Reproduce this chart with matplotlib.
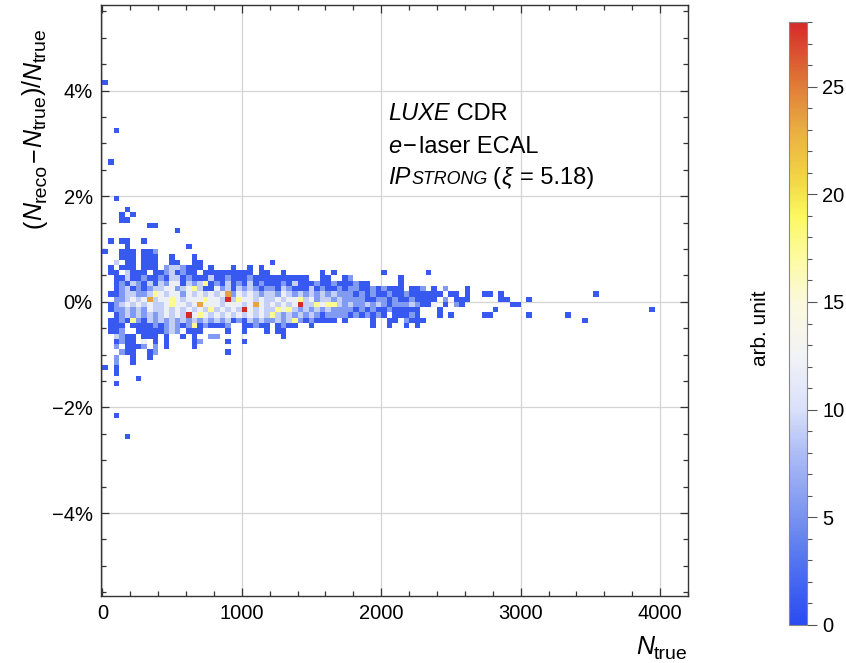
import numpy as np
import matplotlib
matplotlib.use("Agg")
import matplotlib.pyplot as plt
from matplotlib.colors import LinearSegmentedColormap, Normalize
from matplotlib.ticker import MultipleLocator, FixedLocator, FuncFormatter
from matplotlib.transforms import IdentityTransform

plt.rcParams['font.family'] = ['Liberation Sans', 'DejaVu Sans']

# ---------------- data ----------------
X_BIN = 40.0          # N_true bin width
Y_BIN = 0.1           # relative-difference bin width, in %
N_COLS = 100
CORE_TOP_ROW = 10     # row index of first string (row i covers [0.1 i, 0.1 (i+1)] %)
# one string per row, one char per x-bin; '.' = empty, '1'..'9' = colour level
CORE_ROWS = [
    "....1..... .....1....",                                                     # 10
    "1..111.112",                                                                 # 9
    "...111.111 ..1...1...",                                                      # 8
    "..3.11.111 ..11..11.. .......... 1",                                         # 7
    ".1.111.111 .2332111.1 ...1..1.1.",                                           # 6
    ".11.3111.1 1231211.11 1111111.11 ..1......1 .1........ 1.......1.",          # 5
    "..11311211 2133121113 1121112111 1111111..1 1..12..... ...1......",          # 4
    "..12132131 3244132351 2131213121 1121311121 12111211.. ...1......",          # 3
    "..12312123 3442345311 4231323212 2132111312 1121221121 2111.112.1 .2...1....",  # 2
    ".112332235 4344243434 3472434323 3243232323 2322212121 1211211111 1.11.1..11 .1........ ........1.",  # 1
    "..22343473 4454344454 4393544343 3434453423 3232222112 2121121111 .2.111.... .11...1...",  # 0
    ".123434343 3454434744 4344434743 4343493354 5532322323 2122232114 .1.21..... ...11.....",  # -1
    ".122323243 3434343435 3434394343 3545323232 3222212121 1211111... 1......... 1......... .......... ........1.",  # -2
    "..12323232 3434394543 4343434343 5323232321 2222121212 1.11121... 1.1.....11 ......1... ...1......",  # -3
    ".112152132 3232323232 3231213232 2323521211 11.1....1. .11.2111.. .......... .......... ......1...",  # -4
    ".111.11112 1232125121 112..11211 .1211..1.. ........1. .1..1.1...",          # -5
    ".112..1111 1232.111.. ..1..1...1 .11.......",                                # -6
    "..3211.111 .1..1.1..2 2......... ..1.......",                                # -7
    "..1211.4.1 .1....12.. ..1..1....",                                           # -8
    "..2.1112.2 .1....1...",                                                      # -9
    "...211..12 .......... ..1.......",                                           # -10
    "..2..1..1.",                                                                 # -11
    "..2..1....",                                                                 # -12
    "1.1.......",                                                                 # -13
    "..1.......",                                                                 # -14
    "......1...",                                                                 # -15
    "..1.......",                                                                 # -16
]
SPARSE_COL = [1, 3, 4, 7, 13, 8, 9, 3, 4, 3, 5, 4, 2, 1, 2, 0, 2, 4]
SPARSE_ROW = [11, 11, 11, 11, 13, 14, 14, 15, 15, 16, 16, 17, 19, 26, 32, 41, -22, -26]
SPARSE_CODE = ['1'] * len(SPARSE_COL)
CODE_VALUE = {'1': 1.0, '2': 5.5, '3': 9.0, '4': 12.0, '5': 17.5,
              '6': 19.5, '7': 23.5, '8': 25.5, '9': 28.0}

X_TICKS = [0, 1000, 2000, 3000, 4000]
Y_TICKS = [-4, -2, 0, 2, 4]
CBAR_TICKS = [0, 5, 10, 15, 20, 25]
CBAR_MAX = 28

# ---------------- build the histogram grid ----------------
rows = ["".join(r.split()).ljust(N_COLS, '.') for r in CORE_ROWS]
row_lo = min(CORE_TOP_ROW - len(rows) + 1, min(SPARSE_ROW))
row_hi = max(CORE_TOP_ROW, max(SPARSE_ROW))
H = np.full((row_hi - row_lo + 1, N_COLS), np.nan)
for k, r in enumerate(rows):
    i = CORE_TOP_ROW - k
    for j, c in enumerate(r):
        if c != '.':
            H[i - row_lo, j] = CODE_VALUE[c]
for j, i, c in zip(SPARSE_COL, SPARSE_ROW, SPARSE_CODE):
    H[i - row_lo, j] = CODE_VALUE[c]
xedges = np.arange(N_COLS + 1) * X_BIN
yedges = np.arange(row_lo, row_hi + 2) * Y_BIN

cmap = LinearSegmentedColormap.from_list("luxe", [
    (0.0, "#2a4bf0"), (3 / 28, "#5475f0"), (5 / 28, "#7893f1"),
    (8 / 28, "#aebdf6"), (10 / 28, "#d9e0fa"), (12.5 / 28, "#f2f3f6"),
    (15 / 28, "#fbf9dc"), (17 / 28, "#fdfba2"), (19 / 28, "#fcf862"),
    (20.5 / 28, "#f3da48"), (23 / 28, "#eaae40"), (25 / 28, "#e27e38"),
    (1.0, "#d42a2a")])
norm = Normalize(0, CBAR_MAX)

# ---------------- figure ----------------
FW, FH = 846, 663
fig = plt.figure(figsize=(FW / 100, FH / 100), dpi=100)
renderer = fig.canvas.get_renderer()
ax = fig.add_axes([101 / FW, 67 / FH, 587 / FW, 591 / FH])
mesh = ax.pcolormesh(xedges, yedges, np.ma.masked_invalid(H), cmap=cmap,
                     norm=norm, edgecolors='none', zorder=2)
ax.set_xlim(-10, 4200)
ax.set_ylim(-5.57, 5.62)

ax.xaxis.set_major_locator(FixedLocator(X_TICKS))
ax.xaxis.set_minor_locator(MultipleLocator(200))
ax.yaxis.set_major_locator(FixedLocator(Y_TICKS))
ax.yaxis.set_minor_locator(MultipleLocator(0.5))
ax.yaxis.set_major_formatter(FuncFormatter(
    lambda v, p: f"{v:.0f}%".replace("-", "\u2212")))
ax.tick_params(which='both', direction='in', top=True, right=True,
               colors='#333333', labelcolor='black', labelsize=14.5, width=0.9)
ax.tick_params(which='major', length=6, pad=6)
ax.tick_params(which='minor', length=3.5)
for s in ax.spines.values():
    s.set_color('#333333')
    s.set_linewidth(1.0)
ax.grid(True, which='major', color='#d4d4d4', linewidth=0.9)
ax.set_axisbelow(True)


def pieces(x0, y0, parts, rotation=0, anchor='start'):
    """Lay out text pieces along a line (pixel coords, baseline aligned).
    parts: (text, fontsize, style, shift_px_down, gap_px_before)"""
    arts, pos = [], 0.0
    for text, size, style, shift, gap in parts:
        pos += gap
        t = fig.text(0, 0, text, fontsize=size, style=style, rotation=rotation,
                     rotation_mode='anchor', ha='left', va='baseline',
                     transform=IdentityTransform())
        bb = t.get_window_extent(renderer)
        arts.append((t, pos, shift))
        pos += bb.height if rotation == 90 else bb.width
    off = {'start': 0.0, 'center': -pos / 2, 'end': -pos}[anchor]
    for t, p, shift in arts:
        if rotation == 90:
            t.set_position((x0 + shift, y0 + p + off))
        else:
            t.set_position((x0 + p + off, y0 - shift))


B, S, D = 18, 14, 5  # base size, subscript size, subscript drop (px)
MINUS = "\u2212"
pieces(41, FH - 128, [
    ("(", B, 'normal', 0, 0), ("N", B, 'italic', 0, 0), ("reco", S, 'normal', D, 0),
    (MINUS, B, 'normal', 0, 1), ("N", B, 'italic', 0, 1), ("true", S, 'normal', D, 0),
    (")", B, 'normal', 0, 0), ("/", B, 'normal', 0, 0), ("N", B, 'italic', 0, 0),
    ("true", S, 'normal', D, 0)], rotation=90, anchor='center')
pieces(688, FH - 654, [("N", B, 'italic', 0, 0), ("true", S, 'normal', D, 0)],
       anchor='end')

# annotation block
TS = 17
pieces(388, FH - 120, [("LUXE", TS, 'italic', 0, 0), (" CDR", TS, 'normal', 0, 0)])
pieces(388, FH - 153, [("e", TS, 'italic', 0, 0), (MINUS, TS, 'normal', 0, 2),
                       ("laser ECAL", TS, 'normal', 0, 2)])
pieces(388, FH - 184, [("IP", TS, 'italic', 0, 0), ("STRONG", TS * 0.76, 'italic', 0, 1),
                       ("(", TS, 'normal', 0, 5), ("\u03be", TS, 'italic', 0, 1),
                       ("= 5.18)", TS, 'normal', 0, 8)])

# colour bar
cax = fig.add_axes([789 / FW, 38 / FH, 18 / FW, 603 / FH])
cb = fig.colorbar(mesh, cax=cax)
cb.set_ticks(CBAR_TICKS)
cax.yaxis.set_minor_locator(MultipleLocator(1))
cax.tick_params(which='both', direction='out', colors='#555555',
                labelcolor='black', labelsize=14.5, width=0.8)
cax.tick_params(which='major', length=7, pad=4)
cax.tick_params(which='minor', length=3.5)
cb.outline.set_edgecolor('#888888')
cb.outline.set_linewidth(0.8)
fig.text(760 / FW, 1 - 328 / FH, "arb. unit", rotation=90,
         ha='center', va='center', fontsize=15)

fig.savefig("out.png", dpi=100)
